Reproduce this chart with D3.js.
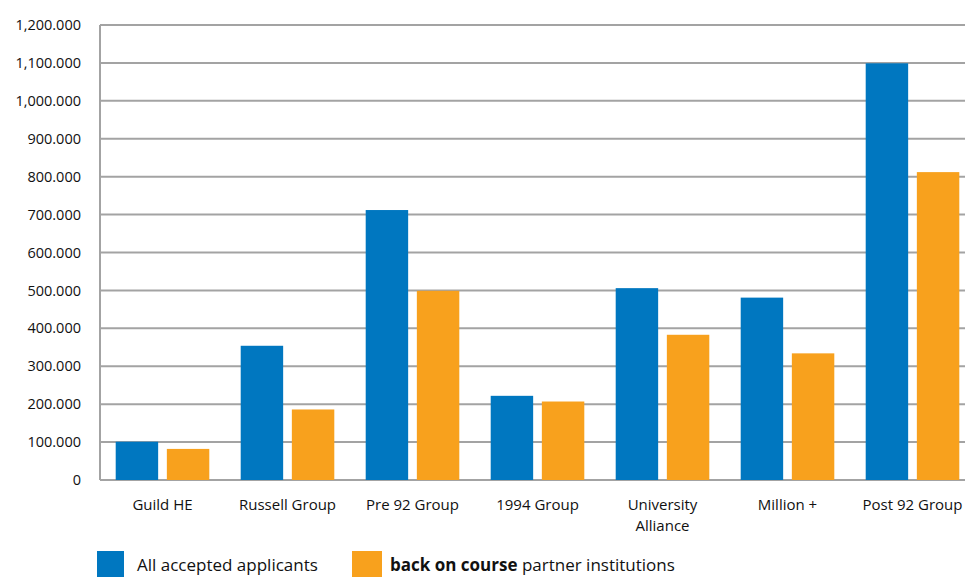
<!DOCTYPE html>
<html>
<head>
<meta charset="utf-8">
<script src="https://cdn.jsdelivr.net/npm/d3@7"></script>
<style>
  body { margin: 0; background: #fff; }
  text { font-family: "Open Sans", sans-serif; fill: #111; }
</style>
</head>
<body>
<svg id="chart" width="965" height="577"></svg>
<script>
// groups along the x axis
var categories = ["Guild HE", "Russell Group", "Pre 92 Group", "1994 Group", "University Alliance", "Million +", "Post 92 Group"];
var seriesNames = ["All accepted applicants", "back on course partner institutions"];
// values
var allApplicants = [101, 354, 712, 222, 506, 481, 1099];
var bocPartners = [82, 186, 499, 207, 383, 334, 812];
var tickValues = [0, 100, 200, 300, 400, 500, 600, 700, 800, 900, 1000, 1100, 1200];
var tickLabels = ["0", "100.000", "200.000", "300.000", "400.000", "500.000", "600.000", "700.000", "800.000", "900.000", "1,000.000", "1,100.000", "1,200.000"];

var colors = ["#0077c0", "#f8a11d"];

var svg = d3.select("#chart");

var y = d3.scaleLinear().domain([0, 1200]).range([480, 25]);
var x0 = d3.scaleBand().domain(categories).range([100, 975]).padding(0);
var x1 = d3.scaleBand().domain([0, 1]).range([15.7, 109.3]).paddingInner(0.17);

// gridlines
svg.append("g")
    .selectAll("line")
    .data(tickValues)
    .enter().append("line")
    .attr("x1", 100).attr("x2", 965)
    .attr("y1", function(d) { return y(d); })
    .attr("y2", function(d) { return y(d); })
    .attr("stroke", "#a3a3a3")
    .attr("stroke-width", 2);

// left axis line
svg.append("line")
    .attr("x1", 100).attr("x2", 100)
    .attr("y1", y(1200)).attr("y2", y(0))
    .attr("stroke", "#a3a3a3").attr("stroke-width", 2);

// y axis labels
var yAxis = d3.axisLeft(y)
    .tickValues(tickValues)
    .tickSize(0)
    .tickPadding(19)
    .tickFormat(function(d, i) { return tickLabels[i]; });
var yg = svg.append("g").attr("transform", "translate(100,0)").call(yAxis);
yg.select(".domain").remove();
yg.selectAll("text").style("font-size", "14.5px").style("font-family", "'Open Sans', sans-serif").attr("fill", "#111");

// bars
var rows = categories.map(function(c, i) { return { cat: c, vals: [allApplicants[i], bocPartners[i]] }; });
var grp = svg.append("g").selectAll("g")
    .data(rows)
    .enter().append("g")
    .attr("transform", function(d) { return "translate(" + x0(d.cat) + ",0)"; });
grp.selectAll("rect")
    .data(function(d) { return d.vals; })
    .enter().append("rect")
    .attr("x", function(d, i) { return x1(i); })
    .attr("width", x1.bandwidth())
    .attr("y", function(d) { return y(d); })
    .attr("height", function(d) { return y(0) - y(d); })
    .attr("fill", function(d, i) { return colors[i]; });

// x labels
var xAxis = d3.axisBottom(x0).tickSize(0).tickPadding(0);
var xg = svg.append("g").attr("transform", "translate(0,480)").call(xAxis);
xg.select(".domain").remove();
xg.selectAll(".tick text").remove();
xg.selectAll(".tick").each(function(d) {
    var t = d3.select(this).append("text")
        .attr("text-anchor", "middle")
        .attr("y", 30)
        .style("font-size", "15px")
        .attr("fill", "#111");
    var parts = d == "University Alliance" ? ["University", "Alliance"] : [d];
    parts.forEach(function(p, k) {
        t.append("tspan").attr("x", 0).attr("dy", k ? 21 : 0).text(p);
    });
});

// legend
var legend = svg.append("g");
legend.append("rect").attr("x", 97).attr("y", 551).attr("width", 27).attr("height", 27).attr("fill", colors[0]);
legend.append("text").attr("x", 137).attr("y", 571).style("font-size", "17px").text(seriesNames[0]);
legend.append("rect").attr("x", 352).attr("y", 551).attr("width", 30).attr("height", 27).attr("fill", colors[1]);
var lt = legend.append("text").attr("x", 390).attr("y", 571).style("font-size", "17px");
lt.append("tspan").style("font-weight", "bold").text("back on course");
lt.append("tspan").text(" partner institutions");
</script>
</body>
</html>
